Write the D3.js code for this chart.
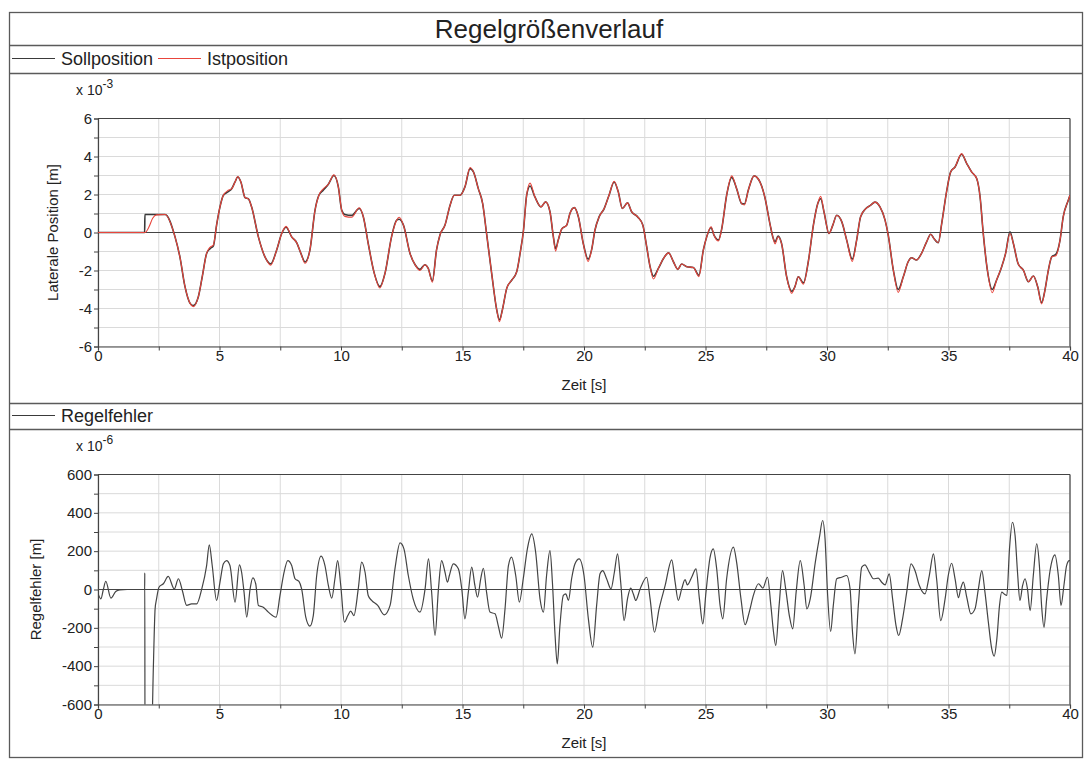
<!DOCTYPE html>
<html>
<head>
<meta charset="utf-8">
<script src="https://cdn.jsdelivr.net/npm/d3@7"></script>
<style>
  html, body { margin: 0; padding: 0; background: #fff; }
  svg { display: block; font-family: "Liberation Sans", Arial, sans-serif; }
</style>
</head>
<body>
<svg id="chart" width="1089" height="760"></svg>
<script>
// ---------- DATA ----------
const chartTitle = "Regelgrößenverlauf";
const seriesNames = ["Sollposition", "Istposition"];
const errorName = "Regelfehler";

// time [s] of the top-chart samples
const posTime = [0,1.92,1.93,2.1,2.25,2.41,2.76,3.17,3.37,3.58,3.79,3.92,4.13,4.29,4.47,4.61,4.75,4.88,5.02,5.16,5.36,5.5,5.64,5.75,5.88,6.05,6.19,6.32,6.6,6.87,7.11,7.35,7.56,7.74,7.97,8.18,8.35,8.52,8.72,8.93,9.09,9.27,9.48,9.71,9.89,10.03,10.16,10.44,10.75,10.92,11.12,11.37,11.6,11.81,12.08,12.29,12.39,12.57,12.84,13.05,13.25,13.45,13.59,13.76,13.93,14.07,14.28,14.49,14.66,14.9,15.1,15.31,15.45,15.65,15.83,15.99,16.2,16.41,16.52,16.64,16.82,17.03,17.23,17.37,17.51,17.64,17.78,17.98,18.23,18.42,18.6,18.74,18.83,18.94,19.08,19.29,19.42,19.6,19.77,19.97,20.17,20.31,20.45,20.62,20.83,21.03,21.24,21.41,21.58,21.79,21.96,22.21,22.42,22.58,22.72,22.86,23.06,23.27,23.48,23.68,23.86,24.02,24.23,24.5,24.73,24.91,25.05,25.23,25.35,25.53,25.67,25.87,26.08,26.28,26.49,26.6,26.76,27.0,27.24,27.44,27.65,27.79,27.86,27.99,28.13,28.34,28.55,28.68,28.82,29.03,29.23,29.44,29.62,29.74,29.89,30.08,30.24,30.4,30.61,30.81,31.04,31.22,31.38,31.6,31.8,31.97,32.18,32.39,32.52,32.73,32.93,33.14,33.34,33.48,33.68,33.89,34.1,34.27,34.4,34.58,34.72,34.93,35.09,35.27,35.54,35.75,35.95,36.16,36.3,36.43,36.6,36.8,36.98,37.19,37.35,37.53,37.67,37.87,38.08,38.29,38.49,38.67,38.83,38.97,39.11,39.25,39.42,39.59,39.72,39.93,40.0];
// Sollposition [x 10^-3 m]
const sollPos = [0,0,0.95,0.95,0.95,0.95,0.95,-0.23,-1.28,-2.85,-3.73,-3.85,-3.38,-2.33,-1.1,-0.85,-0.7,0.39,1.35,1.96,2.15,2.3,2.66,2.92,2.66,1.84,1.77,1.35,-0.23,-1.28,-1.65,-0.93,-0.05,0.28,-0.23,-0.54,-1.1,-1.55,-0.93,1.17,1.96,2.22,2.54,3.0,2.4,1.17,0.95,0.9,1.26,0.82,-0.58,-2.15,-2.85,-2.15,-0.23,0.65,0.7,0.39,-1.1,-1.7,-1.94,-1.7,-1.89,-2.55,-0.93,-0.14,0.39,1.44,1.96,1.96,2.4,3.36,3.19,2.31,1.52,-0.05,-2.15,-4.08,-4.6,-4.08,-2.94,-2.5,-2.07,-1.1,0.12,1.96,2.45,1.87,1.35,1.61,1.09,-0.23,-0.85,-0.4,0.18,0.39,1.0,1.31,0.82,-0.58,-1.4,-0.93,0.12,0.82,1.26,1.96,2.66,2.14,1.26,1.56,1.09,0.82,0.39,-0.75,-1.8,-2.3,-1.89,-1.37,-1.07,-1.54,-1.94,-1.66,-1.8,-1.84,-2.25,-0.93,-0.23,0.26,-0.14,-0.4,0.21,1.96,2.9,2.31,1.52,1.5,2.22,2.98,2.66,1.87,0.47,-0.32,-0.5,-0.19,-0.58,-2.33,-3.1,-2.85,-2.33,-2.65,-1.54,0.39,1.52,1.78,1.0,-0.05,0.39,0.91,0.56,-0.4,-1.4,-0.4,0.82,1.26,1.44,1.6,1.35,0.65,-0.14,-1.98,-3.0,-2.33,-1.54,-1.33,-1.45,-1.1,-0.49,-0.09,-0.32,-0.54,0.47,2.22,3.19,3.45,4.12,3.63,3.19,2.84,1.87,-0.05,-1.98,-3.0,-2.5,-1.8,-1.1,0.04,-0.58,-1.66,-1.98,-2.59,-2.29,-2.85,-3.7,-3.03,-1.98,-1.28,-1.15,-0.4,0.82,1.7,1.96];
// Istposition [x 10^-3 m]
const istPos = [0,0,0,0.3,0.75,0.93,0.95,-0.23,-1.28,-2.85,-3.73,-3.9,-3.38,-2.33,-1.1,-0.78,-0.65,0.39,1.35,1.96,2.22,2.3,2.66,2.95,2.66,1.84,1.77,1.35,-0.23,-1.28,-1.72,-0.93,-0.05,0.32,-0.23,-0.54,-1.1,-1.62,-0.93,1.17,1.96,2.3,2.54,3.04,2.4,1.17,0.85,0.8,1.3,0.82,-0.58,-2.15,-2.92,-2.15,-0.23,0.65,0.8,0.39,-1.1,-1.7,-2.0,-1.7,-1.89,-2.62,-0.93,-0.14,0.39,1.44,1.96,1.96,2.4,3.42,3.19,2.31,1.52,-0.05,-2.15,-4.08,-4.7,-4.08,-2.94,-2.5,-2.07,-1.1,0.12,1.96,2.6,1.87,1.35,1.61,1.09,-0.23,-0.98,-0.4,0.18,0.39,1.0,1.31,0.82,-0.58,-1.52,-0.93,0.12,0.82,1.26,1.96,2.7,2.14,1.26,1.56,1.09,0.82,0.39,-0.75,-1.8,-2.45,-1.89,-1.37,-1.07,-1.54,-1.94,-1.66,-1.8,-1.84,-2.32,-0.93,-0.23,0.3,-0.14,-0.45,0.21,1.96,2.98,2.31,1.52,1.45,2.22,2.98,2.66,1.87,0.47,-0.32,-0.6,-0.22,-0.58,-2.33,-3.2,-2.85,-2.33,-2.72,-1.54,0.39,1.52,1.9,1.0,-0.05,0.39,0.91,0.56,-0.4,-1.52,-0.4,0.82,1.26,1.44,1.6,1.35,0.65,-0.14,-1.98,-3.15,-2.33,-1.54,-1.33,-1.45,-1.1,-0.49,-0.09,-0.32,-0.54,0.47,2.22,3.19,3.45,4.15,3.63,3.19,2.84,1.87,-0.05,-1.98,-3.17,-2.5,-1.8,-1.1,-0.05,-0.58,-1.66,-1.98,-2.59,-2.29,-2.85,-3.76,-3.03,-1.98,-1.28,-1.22,-0.4,0.82,1.7,1.96];

// time [s] of the error samples
const errTime = [0,0.12,0.22,0.32,0.53,0.73,0.9,1.2,1.92,1.925,1.935,2.21,2.28,2.35,2.41,2.51,2.69,2.89,3.14,3.31,3.47,3.65,3.85,4.06,4.27,4.47,4.58,4.7,4.88,5.02,5.16,5.29,5.43,5.64,5.82,5.91,6.01,6.12,6.26,6.37,6.49,6.6,6.8,7.01,7.33,7.49,7.63,7.81,7.97,8.11,8.27,8.38,8.55,8.72,8.86,9.0,9.18,9.34,9.48,9.62,9.75,9.86,9.99,10.14,10.28,10.4,10.53,10.71,10.85,10.99,11.12,11.26,11.51,11.78,12.02,12.22,12.43,12.59,12.77,12.97,13.25,13.46,13.6,13.73,13.87,14.01,14.14,14.28,14.38,14.46,14.62,14.83,14.97,15.1,15.24,15.38,15.51,15.62,15.75,15.86,15.99,16.13,16.34,16.47,16.61,16.75,16.89,17.02,17.19,17.34,17.5,17.67,17.85,18.01,18.19,18.33,18.46,18.6,18.7,18.81,18.9,19.01,19.15,19.25,19.36,19.49,19.63,19.8,20.0,20.18,20.36,20.52,20.66,20.77,20.93,21.11,21.25,21.38,21.51,21.65,21.79,21.92,22.03,22.13,22.31,22.58,22.72,22.9,23.09,23.34,23.61,23.75,23.88,24.02,24.16,24.25,24.43,24.61,24.75,24.89,25.02,25.19,25.32,25.46,25.6,25.71,25.87,26.15,26.28,26.46,26.63,26.8,26.97,27.18,27.36,27.55,27.69,27.8,27.89,28.03,28.17,28.3,28.45,28.59,28.73,28.9,29.06,29.17,29.31,29.52,29.69,29.82,29.92,30.02,30.15,30.26,30.4,30.6,30.81,30.95,31.05,31.15,31.29,31.43,31.56,31.74,31.91,32.11,32.25,32.39,32.56,32.7,32.84,32.95,33.11,33.28,33.46,33.62,33.8,34.03,34.21,34.38,34.51,34.68,34.86,34.99,35.13,35.27,35.41,35.5,35.61,35.75,35.92,36.09,36.23,36.37,36.5,36.64,36.78,36.88,36.99,37.1,37.19,37.29,37.4,37.51,37.63,37.74,37.84,37.94,38.05,38.15,38.25,38.36,38.49,38.63,38.74,38.83,38.93,39.04,39.18,39.38,39.52,39.63,39.75,39.86,39.97,40.0];
// Regelfehler [x 10^-6 m]
const errVal = [-20,-49,0,43,-45,-10,-2,0,0,87,-950,-750,-397,-101,-49,12,30,68,3,56,-5,-83,-75,-75,3,125,233,125,-57,38,134,151,125,-66,129,90,-14,-144,3,61,30,-83,-92,-118,-144,-31,73,151,125,56,42,3,-144,-191,-136,73,174,125,21,-45,56,151,21,-170,-136,-113,-136,3,143,90,-31,-57,-83,-132,-83,108,243,212,73,-49,-118,3,160,-14,-240,3,151,90,38,73,134,108,3,-153,-14,117,21,-40,56,111,-14,-118,-127,-188,-254,-101,125,169,73,-66,56,212,290,195,-49,-118,73,203,38,-240,-388,-188,-31,-23,-57,56,134,160,73,-153,-301,-83,82,99,56,3,90,186,38,-162,-49,7,-23,-57,3,64,-49,-223,-101,21,155,38,-57,3,52,24,64,108,-49,-179,-14,169,212,108,-83,-153,56,221,143,-49,-184,-118,-31,30,7,64,-83,-223,-292,-83,99,3,-136,-205,-14,151,21,-101,-49,143,273,360,264,-14,-219,-83,56,64,73,3,-223,-336,-83,117,129,90,56,59,38,24,82,-49,-188,-240,-153,-14,134,99,21,-23,73,186,56,-162,-49,73,137,56,-43,3,38,-40,-127,-101,3,99,-14,-170,-310,-348,-257,-83,-14,-23,-31,212,351,282,90,-57,21,56,3,-110,73,238,125,-83,-197,-49,99,181,73,-83,21,125,151,150];

// ticks
const xTicks = [0,2.5,5,7.5,10,12.5,15,17.5,20,22.5,25,27.5,30,32.5,35,37.5,40];
const xLabels = [0,5,10,15,20,25,30,35,40];
const posTicks = [-6,-5,-4,-3,-2,-1,0,1,2,3,4,5,6];
const posLabels = [-6,-4,-2,0,2,4,6];
const errTicks = [-600,-500,-400,-300,-200,-100,0,100,200,300,400,500,600];
const errLabels = [-600,-400,-200,0,200,400,600];

// ---------- DRAW ----------
const svg = d3.select("#chart");
const frameColor = "#5a5a5a";
const textColor = "#222";
const gridColor = "#dadada";
const sollColor = "#3a3a3a";
const istColor = "#e8453c";

// outer frame and separators
svg.append("rect").attr("x", 9.5).attr("y", 12.5).attr("width", 1073).attr("height", 745)
  .attr("fill", "none").attr("stroke", frameColor).attr("stroke-width", 1.3);
[45.5, 73.5, 403.5, 429.5].forEach(y => {
  svg.append("line").attr("x1", 9.5).attr("x2", 1082.5).attr("y1", y).attr("y2", y)
    .attr("stroke", frameColor).attr("stroke-width", 1.3);
});

// title
svg.append("text").attr("x", 549).attr("y", 38).attr("text-anchor", "middle")
  .attr("font-size", 26).attr("fill", textColor).text(chartTitle);

// legends
function legendItem(x, y, color, label) {
  svg.append("line").attr("x1", x).attr("x2", x + 43).attr("y1", y).attr("y2", y)
    .attr("stroke", color).attr("stroke-width", 1.2);
  svg.append("text").attr("x", x + 49).attr("y", y + 6).attr("font-size", 18)
    .attr("fill", textColor).text(label);
}
legendItem(12, 58.5, sollColor, seriesNames[0]);
legendItem(158, 58.5, istColor, seriesNames[1]);
legendItem(12, 415.5, sollColor, errorName);

const x0 = 98, x1 = 1070;

function panel(cfg) {
  const x = d3.scaleLinear().domain([0, 40]).range([x0, x1]);
  const y = d3.scaleLinear().domain(cfg.domain).range([cfg.bottom, cfg.top]);
  const g = svg.append("g");
  const clipId = "clip" + cfg.id;
  svg.append("clipPath").attr("id", clipId).append("rect")
    .attr("x", x0).attr("y", cfg.top).attr("width", x1 - x0).attr("height", cfg.bottom - cfg.top);

  // grid
  g.append("g").selectAll("line").data(xTicks).join("line")
    .attr("x1", d => x(d)).attr("x2", d => x(d)).attr("y1", cfg.top).attr("y2", cfg.bottom)
    .attr("stroke", gridColor).attr("stroke-width", 1);
  g.append("g").selectAll("line").data(cfg.ticks).join("line")
    .attr("x1", x0).attr("x2", x1).attr("y1", d => y(d)).attr("y2", d => y(d))
    .attr("stroke", gridColor).attr("stroke-width", 1);
  // zero line
  g.append("line").attr("x1", x0).attr("x2", x1).attr("y1", y(0)).attr("y2", y(0))
    .attr("stroke", "#444").attr("stroke-width", 1.2);

  // axes
  const ax = g.append("g").attr("transform", `translate(0,${cfg.bottom})`)
    .call(d3.axisBottom(x).tickValues(xTicks).tickSize(4)
      .tickFormat(d => xLabels.includes(d) ? String(d) : ""));
  const ay = g.append("g").attr("transform", `translate(${x0},0)`)
    .call(d3.axisLeft(y).tickValues(cfg.ticks).tickSize(4)
      .tickFormat(d => cfg.labels.includes(d) ? String(d) : ""));
  [ax, ay].forEach(a => {
    a.selectAll("path").attr("stroke", "#444").attr("stroke-width", 1.2);
    a.selectAll("line").attr("stroke", "#444");
    a.selectAll("text").attr("font-size", 15).attr("fill", textColor)
      .attr("font-family", "Liberation Sans, Arial, sans-serif");
  });
  ax.selectAll("text").attr("dy", "0.85em").attr("y", 2);
  ay.selectAll("text").attr("x", -6);
  // top & right frame of the plot area
  g.append("line").attr("x1", x0).attr("x2", x1).attr("y1", cfg.top).attr("y2", cfg.top)
    .attr("stroke", "#444").attr("stroke-width", 1.2);
  g.append("line").attr("x1", x1).attr("x2", x1).attr("y1", cfg.top).attr("y2", cfg.bottom)
    .attr("stroke", "#444").attr("stroke-width", 1.2);

  // axis titles
  g.append("text").attr("x", (x0 + x1) / 2).attr("y", cfg.bottom + 43)
    .attr("text-anchor", "middle").attr("font-size", 15).attr("fill", textColor).text("Zeit [s]");
  g.append("text").attr("transform", `translate(${cfg.ylabelX},${(cfg.top + cfg.bottom) / 2}) rotate(-90)`)
    .attr("text-anchor", "middle").attr("font-size", 15).attr("fill", textColor).text(cfg.ylabel);
  // exponent
  const ex = g.append("text").attr("x", 76).attr("y", cfg.top - 24).attr("font-size", 14).attr("fill", textColor);
  ex.append("tspan").text("x 10");
  ex.append("tspan").attr("dy", -7).attr("font-size", 12).text(cfg.exp);

  // series
  const plot = g.append("g").attr("clip-path", `url(#${clipId})`);
  cfg.series.forEach(s => {
    const line = d3.line().x((d, i) => x(s.t[i])).y(d => y(d)).curve(d3.curveMonotoneX);
    plot.append("path").attr("d", line(s.v)).attr("fill", "none")
      .attr("stroke", s.color).attr("stroke-width", s.width);
  });
}

panel({
  id: "pos", domain: [-6, 6], top: 118.5, bottom: 346.5,
  ticks: posTicks, labels: posLabels, ylabel: "Laterale Position [m]", ylabelX: 58, exp: "-3",
  series: [
    { t: posTime, v: sollPos, color: sollColor, width: 1.6 },
    { t: posTime, v: istPos, color: istColor, width: 1.1 }
  ]
});

panel({
  id: "err", domain: [-600, 600], top: 474.5, bottom: 704.5,
  ticks: errTicks, labels: errLabels, ylabel: "Regelfehler [m]", ylabelX: 41, exp: "-6",
  series: [
    { t: errTime, v: errVal, color: "#444", width: 1.2 }
  ]
});
</script>
</body>
</html>
